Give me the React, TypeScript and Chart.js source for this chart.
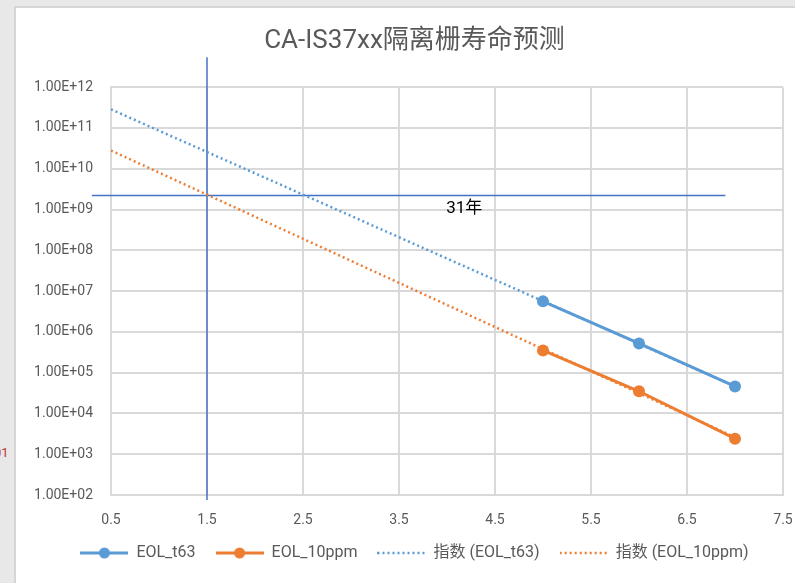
import React, { useEffect, useRef } from "react";
import { Chart, registerables } from "chart.js";
Chart.register(...registerables);

// ---- data ----
const titleText = "CA-IS37xx隔离栅寿命预测";
const xTicks = [0.5, 1.5, 2.5, 3.5, 4.5, 5.5, 6.5, 7.5];
const yTicks = [1e2, 1e3, 1e4, 1e5, 1e6, 1e7, 1e8, 1e9, 1e10, 1e11, 1e12];

const seriesX = [5, 6, 7];
const eolT63 = [5.6e6, 5.2e5, 4.6e4];
const eol10ppm = [3.5e5, 3.5e4, 2.4e3];

const trendX = [0.5, 7];
const trendT63 = [2.86e11, 4.6e4];
const trend10ppm = [2.8e10, 2.6e3];

const vLineX = [1.5, 1.5];
const vLineY = [75, 5.4e12];
const hLineX = [0.3, 6.9];
const hLineY = [2.2e9, 2.2e9];
const noteText = "31年";
const notePos = [4.18, 1.07e9];

const seriesNames = ["EOL_t63", "EOL_10ppm", "指数 (EOL_t63)", "指数 (EOL_10ppm)"];

const BLUE = "#5B9BD5";
const ORANGE = "#ED7D31";
const LINE = "#4472C4";
const GRID = "#d9d9d9";
const TEXT = "#595959";
const FONT = 'Roboto, "Noto Sans CJK SC", sans-serif';

const pts = (xs: number[], ys: number[]) => xs.map((x, i) => ({ x, y: ys[i] }));

function makeSample(color: string, dotted: boolean): HTMLCanvasElement {
  const c = document.createElement("canvas");
  c.width = 48;
  c.height = 14;
  const ctx = c.getContext("2d")!;
  ctx.strokeStyle = color;
  ctx.fillStyle = color;
  if (dotted) {
    ctx.lineWidth = 2.5;
    ctx.setLineDash([2, 3]);
    ctx.beginPath();
    ctx.moveTo(0, 7);
    ctx.lineTo(48, 7);
    ctx.stroke();
  } else {
    ctx.lineWidth = 3;
    ctx.beginPath();
    ctx.moveTo(0, 7);
    ctx.lineTo(48, 7);
    ctx.stroke();
    ctx.beginPath();
    ctx.arc(24, 7, 5.5, 0, Math.PI * 2);
    ctx.fill();
  }
  return c;
}

export default function App() {
  const ref = useRef<HTMLCanvasElement>(null);

  useEffect(() => {
    if (!ref.current) return;
    const samples = [
      makeSample(BLUE, false),
      makeSample(ORANGE, false),
      makeSample(BLUE, true),
      makeSample(ORANGE, true),
    ];

    const legendFit = {
      id: "legendFit",
      beforeInit(chart: any) {
        const lg = chart.legend;
        if (lg && !lg.__patched) {
          const orig = lg.fit;
          lg.fit = function () {
            orig.call(this);
            this.height = 58;
          };
          lg.__patched = true;
        }
      },
      afterLayout(chart: any) {
        if (chart.legend) chart.legend.left += 30;
        if (chart.titleBlock) chart.titleBlock.left += 30;
      },
    };

    const notePlugin = {
      id: "note",
      afterDatasetsDraw(chart: any) {
        const { ctx, scales } = chart;
        const x = scales.x.getPixelForValue(notePos[0]);
        const y = scales.y.getPixelForValue(notePos[1]);
        ctx.save();
        ctx.font = `17px ${FONT}`;
        ctx.fillStyle = "#000";
        ctx.textAlign = "center";
        ctx.textBaseline = "middle";
        ctx.fillText(noteText, x, y);
        ctx.restore();
      },
    };

    const chart = new Chart(ref.current, {
      type: "scatter",
      data: {
        datasets: [
          {
            label: seriesNames[0],
            data: pts(seriesX, eolT63),
            showLine: true,
            borderColor: BLUE,
            backgroundColor: BLUE,
            borderWidth: 3,
            pointRadius: 6,
            pointBorderWidth: 0,
            order: 1,
          },
          {
            label: seriesNames[1],
            data: pts(seriesX, eol10ppm),
            showLine: true,
            borderColor: ORANGE,
            backgroundColor: ORANGE,
            borderWidth: 3,
            pointRadius: 6,
            pointBorderWidth: 0,
            order: 1,
          },
          {
            label: seriesNames[2],
            data: pts(trendX, trendT63),
            showLine: true,
            borderColor: BLUE,
            backgroundColor: BLUE,
            borderWidth: 2.5,
            borderDash: [2, 3],
            pointRadius: 0,
            order: 0,
          },
          {
            label: seriesNames[3],
            data: pts(trendX, trend10ppm),
            showLine: true,
            borderColor: ORANGE,
            backgroundColor: ORANGE,
            borderWidth: 2.5,
            borderDash: [2, 3],
            pointRadius: 0,
            order: 0,
          },
          {
            label: "vline",
            data: pts(vLineX, vLineY),
            showLine: true,
            borderColor: LINE,
            borderWidth: 1.5,
            pointRadius: 0,
            clip: false as any,
            order: 2,
          },
          {
            label: "hline",
            data: pts(hLineX, hLineY),
            showLine: true,
            borderColor: LINE,
            borderWidth: 1.5,
            pointRadius: 0,
            clip: false as any,
            order: 2,
          },
        ],
      },
      options: {
        animation: false,
        responsive: false,
        layout: { padding: { left: 0, right: 12, top: 0, bottom: 0 } },
        plugins: {
          tooltip: { enabled: false },
          title: {
            display: true,
            text: titleText,
            color: TEXT,
            font: { family: FONT, size: 26, weight: "normal" },
            padding: { top: 18, bottom: 30 },
          },
          legend: {
            display: true,
            position: "bottom",
            labels: {
              usePointStyle: true,
              pointStyleWidth: 48,
              padding: 20,
              color: TEXT,
              font: { family: FONT, size: 16 },
              filter: (item: any) => item.datasetIndex < 4,
              sort: (a: any, b: any) => a.datasetIndex - b.datasetIndex,
              generateLabels: (chart: any) =>
                chart.data.datasets.map((ds: any, i: number) => ({
                  text: ds.label,
                  datasetIndex: i,
                  pointStyle: samples[i] || "line",
                  fillStyle: ds.borderColor,
                  strokeStyle: ds.borderColor,
                  lineWidth: 0,
                  fontColor: TEXT,
                  hidden: false,
                })),
            },
          },
        },
        scales: {
          x: {
            type: "linear",
            min: 0.5,
            max: 7.5,
            afterBuildTicks: (scale: any) => {
              scale.ticks = xTicks.map((v) => ({ value: v }));
            },
            afterFit: (scale: any) => {
              scale.height = 30;
              scale.paddingLeft = 0;
              scale.paddingRight = 0;
            },
            ticks: {
              color: TEXT,
              font: { family: FONT, size: 14 },
              padding: 17,
              maxRotation: 0,
              autoSkip: false,
              callback: (v: any) => Number(v).toFixed(1),
            },
            grid: { color: GRID, lineWidth: 2, drawTicks: false },
            border: { color: GRID, width: 2 },
          },
          y: {
            type: "logarithmic",
            min: 1e2,
            max: 1e12,
            afterBuildTicks: (scale: any) => {
              scale.ticks = yTicks.map((v) => ({ value: v }));
            },
            afterFit: (scale: any) => {
              scale.width = 95;
              scale.paddingTop = 0;
              scale.paddingBottom = 0;
            },
            ticks: {
              color: TEXT,
              font: { family: FONT, size: 14 },
              padding: 18,
              autoSkip: false,
              callback: (v: any) => {
                const e = Math.round(Math.log10(Number(v)));
                return `1.00E+${String(e).padStart(2, "0")}`;
              },
            },
            grid: { color: GRID, lineWidth: 2, drawTicks: false },
            border: { color: GRID, width: 2 },
          },
        },
      } as any,
      plugins: [legendFit, notePlugin],
    });
    return () => chart.destroy();
  }, []);

  return (
    <div
      style={{
        position: "fixed",
        left: 0,
        top: 0,
        width: 795,
        height: 583,
        background: "#e8e8e8",
        overflow: "hidden",
      }}
    >
      <span
        style={{
          position: "absolute",
          left: -6,
          top: 445,
          color: "#c0392b",
          fontFamily: "Roboto, sans-serif",
          fontSize: 13,
        }}
      >
        01
      </span>
      <div
        style={{
          position: "absolute",
          left: 14,
          top: 6,
          width: 781,
          height: 577,
          background: "#fff",
          borderLeft: "2px solid #d6d6d6",
          borderTop: "2px solid #d6d6d6",
        }}
      >
        <canvas ref={ref} width={779} height={575} style={{ display: "block" }} />
      </div>
    </div>
  );
}
